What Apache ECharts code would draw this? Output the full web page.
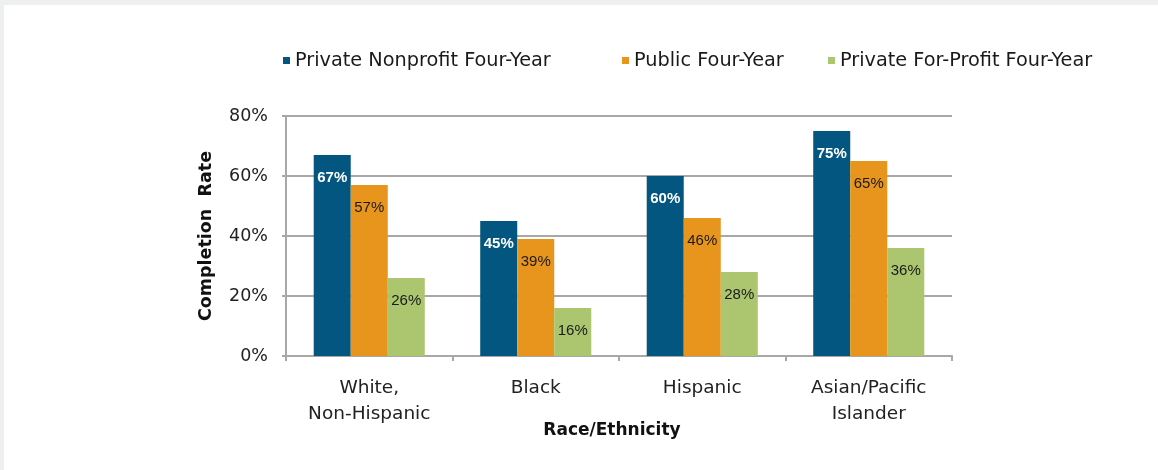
<!DOCTYPE html>
<html>
<head>
<meta charset="utf-8">
<script src="https://cdn.jsdelivr.net/npm/echarts@6/dist/echarts.min.js"></script>
<style>
  html, body { margin: 0; padding: 0; background: #eef0ef; width: 1158px; height: 470px; overflow: hidden; }
  #chart { position: absolute; left: 4px; top: 5px; width: 1154px; height: 465px; background: #ffffff; }
</style>
</head>
<body>
<div id="chart"></div>
<script>
const categories = ['White,\nNon-Hispanic', 'Black', 'Hispanic', 'Asian/Pacific\nIslander'];
const seriesNames = ['Private Nonprofit Four-Year', 'Public Four-Year', 'Private For-Profit Four-Year'];
const privateNonprofit = [67, 45, 60, 75];
const publicFourYear = [57, 39, 46, 65];
const privateForProfit = [26, 16, 28, 36];
const yTicks = [0, 20, 40, 60, 80];

const colors = ['#02567f', '#e8951d', '#abc66e'];
const gridColor = '#a8a8a8';
const baseFont = 'DejaVu Sans';
const labelFont = "'Liberation Sans', Arial, sans-serif";

const chart = echarts.init(document.getElementById('chart'), null, { renderer: 'canvas' });

function barSeries(name, data, color, labelColor, bold) {
  return {
    name: name,
    type: 'bar',
    data: data,
    barGap: '0%',
    barCategoryGap: '33.3%',
    itemStyle: { color: color },
    label: {
      show: true,
      position: 'insideTop',
      distance: 15,
      formatter: '{c}%',
      color: labelColor,
      fontFamily: labelFont,
      fontWeight: bold ? 'bold' : 'normal',
      fontSize: 15
    },
    emphasis: { disabled: true }
  };
}

const legendText = { fontFamily: baseFont, fontSize: 19.3, color: '#1a1a1a' };
function legendFor(name, left) {
  return {
    data: [name],
    left: left,
    top: 46,
    padding: 0,
    itemWidth: 7,
    itemHeight: 7,
    icon: 'rect',
    selectedMode: false,
    textStyle: legendText
  };
}

chart.setOption({
  animation: false,
  backgroundColor: '#ffffff',
  legend: [
    legendFor(seriesNames[0], 279),
    legendFor(seriesNames[1], 618),
    legendFor(seriesNames[2], 824)
  ],
  grid: { left: 282, right: 206, top: 111, bottom: 114, containLabel: false },
  xAxis: {
    type: 'category',
    data: categories,
    name: 'Race/Ethnicity',
    nameLocation: 'middle',
    nameGap: 66,
    nameMoveOverlap: false,
    nameTextStyle: { fontFamily: baseFont, fontWeight: 'bold', fontSize: 17, color: '#111', padding: [0, 14, 0, 0] },
    axisLine: { show: true, lineStyle: { color: gridColor, width: 2 } },
    axisTick: { show: true, length: 5, alignWithLabel: false, lineStyle: { color: gridColor, width: 2 } },
    axisLabel: { fontFamily: baseFont, fontSize: 18.5, color: '#222', margin: 19, lineHeight: 26, interval: 0 }
  },
  yAxis: {
    type: 'value',
    min: yTicks[0],
    max: yTicks[yTicks.length - 1],
    interval: yTicks[1] - yTicks[0],
    name: 'Completion  Rate',
    nameLocation: 'middle',
    nameGap: 71,
    nameRotate: 90,
    nameMoveOverlap: false,
    nameTextStyle: { fontFamily: baseFont, fontWeight: 'bold', fontSize: 17.5, color: '#111' },
    axisLine: { show: true, lineStyle: { color: gridColor, width: 2 } },
    axisTick: { show: true, length: 4, lineStyle: { color: gridColor, width: 2 } },
    splitLine: { show: true, lineStyle: { color: gridColor, width: 2 } },
    axisLabel: { fontFamily: baseFont, fontSize: 17.5, color: '#222', margin: 18, formatter: '{value}%' }
  },
  series: [
    barSeries(seriesNames[0], privateNonprofit, colors[0], '#ffffff', true),
    barSeries(seriesNames[1], publicFourYear, colors[1], '#1a1a1a', false),
    barSeries(seriesNames[2], privateForProfit, colors[2], '#1a1a1a', false)
  ]
});
</script>
</body>
</html>
